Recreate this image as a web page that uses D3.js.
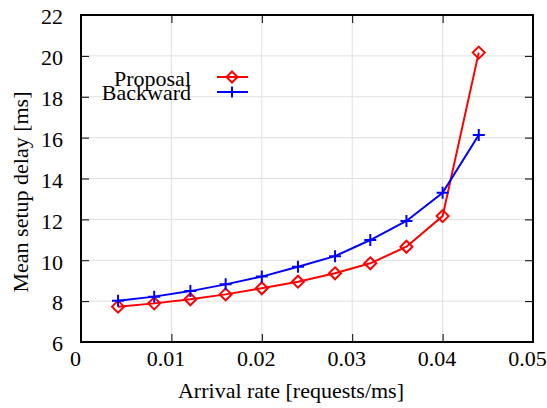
<!DOCTYPE html>
<html>
<head>
<meta charset="utf-8">
<script src="https://cdn.jsdelivr.net/npm/d3@7"></script>
<style>
  body { margin: 0; background: #fff; }
</style>
</head>
<body>
<div id="chart"></div>
<script>
// Data
const arrivalRates = [0.0041, 0.0081, 0.0121, 0.0160, 0.0200, 0.0240, 0.0281, 0.0320, 0.0360, 0.0400, 0.0440];
const proposalDelay = [7.73, 7.89, 8.09, 8.33, 8.63, 8.95, 9.36, 9.85, 10.66, 12.16, 20.16];
const backwardDelay = [8.02, 8.22, 8.49, 8.82, 9.20, 9.68, 10.20, 10.99, 11.92, 13.30, 16.13];
const xTicks = [0, 0.01, 0.02, 0.03, 0.04, 0.05];
const xTickLabels = ['0', '0.01', '0.02', '0.03', '0.04', '0.05'];
const yTicks = [6, 8, 10, 12, 14, 16, 18, 20, 22];
const seriesNames = ['Proposal', 'Backward'];

const FONT = '"Liberation Serif", "Times New Roman", serif';
const FONT_SIZE = '22px';

const W = 547, H = 408;
const margin = {top: 15, right: 14, bottom: 66, left: 81};
const width = W - margin.left - margin.right;
const height = H - margin.top - margin.bottom;

const svg = d3.select('#chart').append('svg')
    .attr('width', W)
    .attr('height', H)
    .style('font-family', FONT);

const g = svg.append('g')
    .attr('transform', `translate(${margin.left},${margin.top})`);

const x = d3.scaleLinear().domain([0, 0.05]).range([0, width]);
const y = d3.scaleLinear().domain([6, 22]).range([height, 0]);

// grid
g.append('g').selectAll('line')
    .data(xTicks.slice(1, -1))
    .join('line')
    .attr('x1', d => x(d)).attr('x2', d => x(d))
    .attr('y1', 0).attr('y2', height)
    .attr('stroke', '#e0e0e0').attr('stroke-width', 1);
g.append('g').selectAll('line')
    .data(yTicks.slice(1, -1))
    .join('line')
    .attr('x1', 0).attr('x2', width)
    .attr('y1', d => y(d)).attr('y2', d => y(d))
    .attr('stroke', '#e0e0e0').attr('stroke-width', 1);

// axes, ticks pointing inward on all four sides
const tickLen = 8;
function styleAxis(sel) {
    sel.attr('font-family', null).attr('font-size', null);
    sel.select('.domain').remove();
    sel.selectAll('.tick line').attr('stroke', '#000').attr('stroke-width', 1);
    sel.selectAll('.tick text')
        .style('font-family', FONT)
        .style('font-size', FONT_SIZE)
        .attr('fill', '#000');
}

g.append('g')
    .attr('transform', `translate(0,${height})`)
    .call(d3.axisBottom(x).tickValues(xTicks).tickFormat((d, i) => xTickLabels[i])
        .tickSizeInner(-tickLen).tickPadding(8))
    .call(styleAxis)
    .selectAll('.tick text').attr('dx', -6);

g.append('g')
    .call(d3.axisTop(x).tickValues(xTicks).tickFormat('').tickSizeInner(-tickLen))
    .call(styleAxis);

g.append('g')
    .call(d3.axisLeft(y).tickValues(yTicks).tickFormat(d3.format('d'))
        .tickSizeInner(-tickLen).tickPadding(18))
    .call(styleAxis)
    .selectAll('.tick text').attr('dy', '0.40em');

g.append('g')
    .attr('transform', `translate(${width},0)`)
    .call(d3.axisRight(y).tickValues(yTicks).tickFormat('').tickSizeInner(-tickLen))
    .call(styleAxis);

// frame
g.append('rect')
    .attr('width', width).attr('height', height)
    .attr('fill', 'none').attr('stroke', '#000').attr('stroke-width', 2);

// series
const series = [
    {name: seriesNames[0], values: proposalDelay, color: '#ff0000', symbol: 'diamond'},
    {name: seriesNames[1], values: backwardDelay, color: '#0000ff', symbol: 'plus'}
];

const line = d3.line().x(d => x(d[0])).y(d => y(d[1]));

function drawMarker(sel, symbol, color, r) {
    if (symbol === 'diamond') {
        sel.append('path')
            .attr('d', `M0,${-r}L${r},0L0,${r}L${-r},0Z`)
            .attr('fill', 'none').attr('stroke', color).attr('stroke-width', 2);
    } else {
        sel.append('path')
            .attr('d', `M${-r},0H${r}M0,${-r}V${r}`)
            .attr('fill', 'none').attr('stroke', color).attr('stroke-width', 2);
    }
}

series.forEach(s => {
    const pts = arrivalRates.map((r, i) => [r, s.values[i]]);
    g.append('path')
        .datum(pts)
        .attr('d', line)
        .attr('fill', 'none')
        .attr('stroke', s.color)
        .attr('stroke-width', 2);
    g.append('g').selectAll('g')
        .data(pts)
        .join('g')
        .attr('transform', d => `translate(${x(d[0])},${y(d[1])})`)
        .each(function() { drawMarker(d3.select(this), s.symbol, s.color, 6); });
});

// legend (the two labels sit close together, as in the original)
const legendY = [77, 92];
const legendBase = [86, 100];
series.forEach((s, i) => {
    const lg = svg.append('g');
    lg.append('text')
        .attr('x', 191).attr('y', legendBase[i])
        .attr('text-anchor', 'end')
        .style('font-family', FONT)
        .style('font-size', FONT_SIZE)
        .text(s.name);
    lg.append('line')
        .attr('x1', 217).attr('x2', 248)
        .attr('y1', legendY[i]).attr('y2', legendY[i])
        .attr('stroke', s.color).attr('stroke-width', 2);
    const m = lg.append('g').attr('transform', `translate(232,${legendY[i]})`);
    drawMarker(m, s.symbol, s.color, 5.5);
});

// axis labels
svg.append('text')
    .attr('x', 291)
    .attr('y', 398)
    .attr('text-anchor', 'middle')
    .style('font-family', FONT)
    .style('font-size', FONT_SIZE)
    .text('Arrival rate [requests/ms]');

svg.append('text')
    .attr('transform', 'translate(28,192) rotate(-90)')
    .attr('text-anchor', 'middle')
    .style('font-family', FONT)
    .style('font-size', FONT_SIZE)
    .text('Mean setup delay [ms]');
</script>
</body>
</html>
